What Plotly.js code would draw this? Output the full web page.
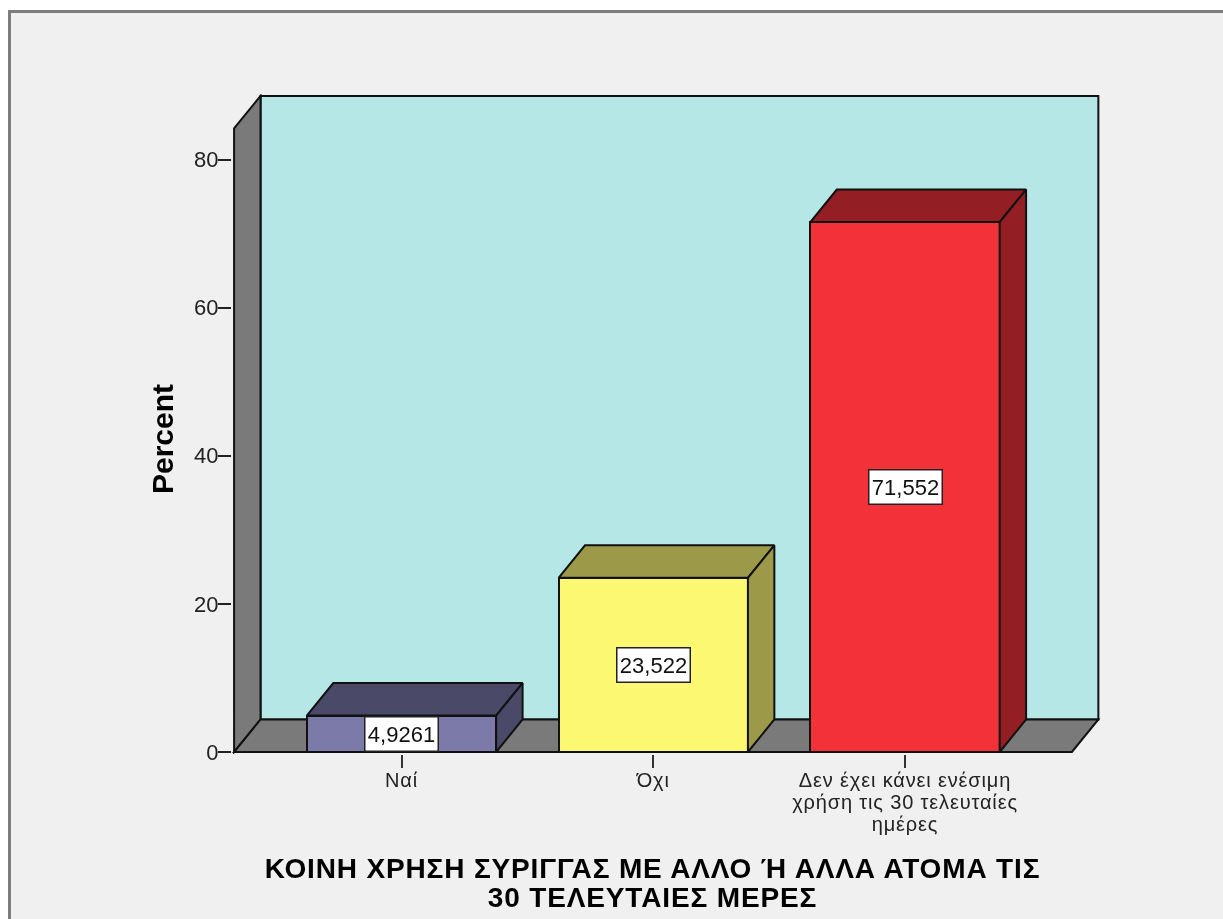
<!DOCTYPE html>
<html>
<head>
<meta charset="utf-8">
<script src="https://cdn.plot.ly/plotly-3.0.1.min.js"></script>
<style>
html,body{margin:0;padding:0;background:#fff;width:1223px;height:919px;overflow:hidden}
#frame{position:absolute;left:8px;top:10px;width:1215px;height:909px;box-sizing:border-box;border-left:3px solid #7d7d7d;border-top:3px solid #7d7d7d;background:#f0f0f0;filter:blur(0.5px)}
#chart{position:absolute;left:0;top:0;width:1223px;height:919px;filter:blur(0.45px)}
#chart .xtick text{letter-spacing:0.85px}
#chart .xtitle{letter-spacing:0.85px}
</style>
</head>
<body>
<div id="frame"></div>
<div id="chart"></div>
<script>
// Data
const categories = ["Ναί", "Όχι", "Δεν έχει κάνει ενέσιμη<br>χρήση τις 30 τελευταίες<br>ημέρες"];
const percents = [4.9261, 23.522, 71.552];
const valueLabels = ["4,9261", "23,522", "71,552"];
const yTicks = [0, 20, 40, 60, 80];
const xTitle = "ΚΟΙΝΗ ΧΡΗΣΗ ΣΥΡΙΓΓΑΣ ΜΕ ΑΛΛΟ Ή ΑΛΛΑ ΑΤΟΜΑ ΤΙΣ<br>30 ΤΕΛΕΥΤΑΙΕΣ ΜΕΡΕΣ";
const yTitle = "Percent";

// Styles
const frontColors = ["#7b7aa9", "#fdf871", "#f23238"];
const shadeColors = ["#4a4a68", "#9c9a48", "#931e23"];
const wallColor = "#7a7a7a", backColor = "#b5e7e7", edge = "#111111";
const FONT = '"Liberation Sans", Arial, sans-serif';

// Extruded-box geometry, in axis units
const positions = categories.map((_, i) => i);
const barWidth = 0.752, depthX = 0.105, depthY = 4.39;
const floorLo = -0.665, floorHi = 2.663, wallTop = 84.2;

const poly = pts => pts.map((p, i) => (i ? "L" : "M") + p[0] + " " + p[1]).join(" ") + " Z";
const wallShape = (pts, fill) => ({type: "path", xref: "x", yref: "y", layer: "below", path: poly(pts),
  fillcolor: fill, line: {color: edge, width: 2}});

const shapes = [
  wallShape([[floorLo + depthX, depthY], [floorHi + depthX, depthY], [floorHi + depthX, wallTop + depthY], [floorLo + depthX, wallTop + depthY]], backColor),
  wallShape([[floorLo, 0], [floorLo + depthX, depthY], [floorLo + depthX, wallTop + depthY], [floorLo, wallTop]], wallColor),
  wallShape([[floorLo, 0], [floorHi, 0], [floorHi + depthX, depthY], [floorLo + depthX, depthY]], wallColor)
];

const face = (pts, color) => ({type: "scatter", mode: "lines", x: pts.map(p => p[0]), y: pts.map(p => p[1]),
  fill: "toself", fillcolor: color, line: {color: edge, width: 2}, hoverinfo: "skip", showlegend: false});

const traces = [{
  type: "bar", x: positions, y: percents, width: barWidth,
  marker: {color: frontColors, line: {color: edge, width: 2}},
  hoverinfo: "y", showlegend: false
}];
percents.forEach((v, i) => {
  const l = positions[i] - barWidth / 2, r = positions[i] + barWidth / 2;
  traces.push(face([[l, v], [l + depthX, v + depthY], [r + depthX, v + depthY], [r, v], [l, v]], shadeColors[i]));
  traces.push(face([[r, 0], [r + depthX, depthY], [r + depthX, v + depthY], [r, v], [r, 0]], shadeColors[i]));
});

const annotations = percents.map((v, i) => ({
  x: positions[i], y: v / 2, xref: "x", yref: "y", text: valueLabels[i], showarrow: false,
  font: {family: FONT, size: 22, color: "#111"}, bgcolor: "#ffffff", bordercolor: "#222",
  borderwidth: 1.5, width: 72, height: 33, align: "center", valign: "middle", borderpad: 0
}));

const layout = {
  width: 1223, height: 919, autosize: false,
  paper_bgcolor: "rgba(0,0,0,0)", plot_bgcolor: "rgba(0,0,0,0)",
  margin: {l: 232, r: 122, t: 94, b: 165, pad: 0},
  showlegend: false, bargap: 0, shapes, annotations,
  font: {family: FONT, color: "#111"},
  xaxis: {
    type: "linear", range: [-0.6733, 2.7785], tickmode: "array", tickvals: positions, ticktext: categories,
    ticks: "outside", ticklen: 13, tickwidth: 2, tickcolor: "#333", showgrid: false, zeroline: false, showline: false,
    tickfont: {family: FONT, size: 20, color: "#222"}, automargin: false, ticklabelstandoff: -5,
    title: {text: xTitle, font: {family: FONT, size: 28, color: "#000", weight: 700}, standoff: 16}
  },
  yaxis: {
    type: "linear", range: [-0.27, 88.85], tickmode: "array", tickvals: yTicks,
    ticks: "outside", ticklen: 13, tickwidth: 2, tickcolor: "#222", showgrid: false, zeroline: false, showline: false,
    tickfont: {family: FONT, size: 22, color: "#222"}, automargin: false, ticklabelstandoff: -5,
    title: {text: yTitle, font: {family: FONT, size: 30, color: "#000", weight: 700}, standoff: 20}
  }
};

// Tighten the multi-line leading and nudge the axis titles to the reference positions
function leading(selector, px) {
  document.querySelectorAll(selector).forEach(t => {
    t.querySelectorAll("tspan.line").forEach((s, i) => s.setAttribute("dy", (i * px) + "px"));
  });
}
Plotly.newPlot("chart", traces, layout, {displayModeBar: false, responsive: false}).then(() => {
  leading(".xtick text", 22);
  leading(".xtitle", 29);
  const gx = document.querySelector(".g-xtitle"), gy = document.querySelector(".g-ytitle");
  if (gx) gx.setAttribute("transform", "translate(-14,0)");
  if (gy) gy.setAttribute("transform", "translate(9,15)");
});
</script>
</body>
</html>
